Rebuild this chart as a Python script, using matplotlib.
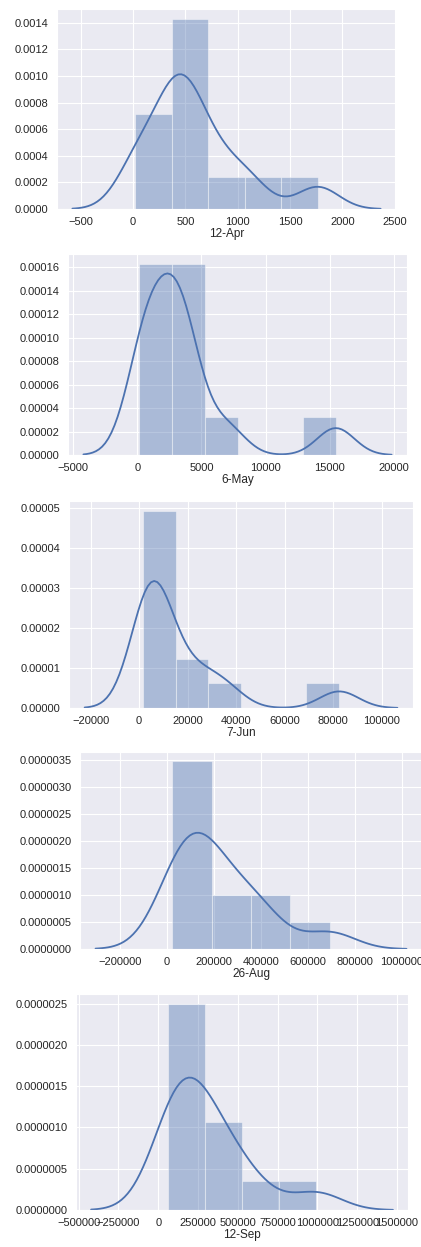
import numpy as np
import matplotlib
matplotlib.use("Agg")
import matplotlib.pyplot as plt
import seaborn as sns

# Observations for each sampling date (estimated from the histograms / kde shapes)
apr12 = [20, 60, 280, 385, 420, 450, 490, 620, 700, 900, 1120, 1765]
may6 = [150, 400, 800, 1300, 2000, 2800, 3000, 3300, 3800, 4200, 7000, 15480]
jun7 = [1500, 2500, 3500, 5000, 6000, 7000, 8500, 12000, 20000, 27000, 36000, 82500]
aug26 = [24000, 35000, 65000, 100000, 130000, 160000, 185000, 220000,
         300000, 370000, 420000, 694000]
sep12 = [58000, 80000, 110000, 140000, 170000, 210000, 260000, 320000,
         380000, 460000, 600000, 994000]

dates = ["12-Apr", "6-May", "7-Jun", "26-Aug", "12-Sep"]
n_bins = [5, 6, 6, 4, 4]
bandwidths = [200, 1450, 8000, 109000, 160000]

sns.set_style("darkgrid")
plt.rcParams["font.family"] = ["Liberation Sans", "DejaVu Sans"]
plt.rcParams["axes.formatter.limits"] = (-9, 9)
plt.rcParams["axes.formatter.useoffset"] = False

W, H = 421, 1247
fig = plt.figure(figsize=(W / 100, H / 100), dpi=100)

# axes boxes in pixels: left, right, top, bottom
boxes = [(57, 396, 9, 209), (68, 407, 254, 455), (69, 413, 501, 708),
         (80, 422, 752, 949), (76, 408, 994, 1210)]

color = "#4C72B0"


def kde_curve(x, bw, cut=3, gridsize=100):
    # gaussian kernel density, support extended by cut * bandwidth
    x = np.asarray(x, dtype=float)
    grid = np.linspace(x.min() - cut * bw, x.max() + cut * bw, gridsize)
    z = (grid[:, None] - x[None, :]) / bw
    dens = np.exp(-0.5 * z ** 2).sum(axis=1) / (len(x) * bw * np.sqrt(2 * np.pi))
    return grid, dens


for data, label, nb, bw, (l, r, t, b) in zip([apr12, may6, jun7, aug26, sep12],
                                            dates, n_bins, bandwidths, boxes):
    ax = fig.add_axes([l / W, 1 - b / H, (r - l) / W, (b - t) / H])
    ax.hist(data, bins=nb, density=True, color=color, alpha=0.4,
            edgecolor="white", linewidth=0.8)
    gx, gy = kde_curve(data, bw)
    ax.plot(gx, gy, color=color, lw=1.3)
    ax.set_xlabel(label, fontsize=8.5, color=".15", labelpad=0.5)
    ax.tick_params(labelsize=8, colors=".15", pad=6, length=0)

plt.savefig("out.png", dpi=100)
